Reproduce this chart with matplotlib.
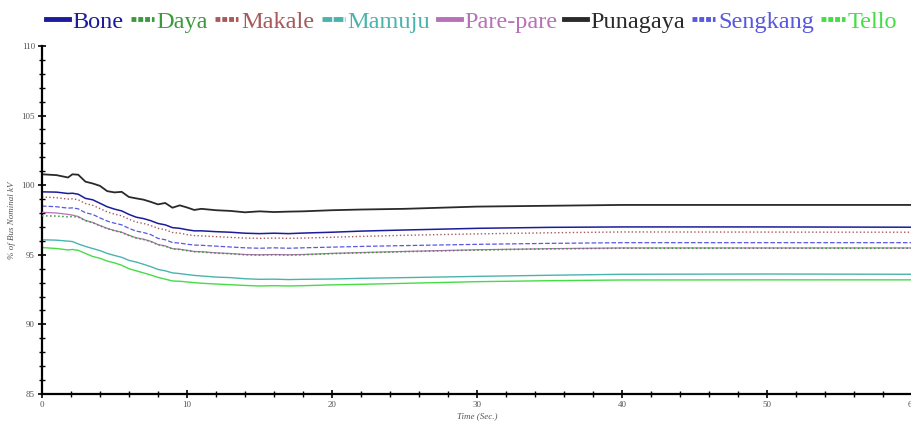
import matplotlib.pyplot as plt
from matplotlib.lines import Line2D
from matplotlib.ticker import MultipleLocator

# waktu (detik)
t = [0, 1, 1.8, 2.1, 2.5, 3, 3.5, 4, 4.5, 5, 5.5, 6, 6.5, 7, 7.5, 8, 8.5, 9, 9.5, 10,
     10.5, 11, 12, 13, 14, 15, 16, 17, 18, 20, 22, 25, 30, 35, 40, 50, 60]

bone = [99.52, 99.5, 99.4, 99.42, 99.35, 99.05, 98.95, 98.7, 98.45, 98.28, 98.15, 97.9, 97.7, 97.6,
        97.45, 97.25, 97.15, 96.95, 96.9, 96.8, 96.72, 96.72, 96.66, 96.62, 96.55, 96.52, 96.55, 96.52,
        96.56, 96.62, 96.7, 96.78, 96.9, 96.97, 97.0, 97.0, 96.98]
daya = [97.8, 97.78, 97.72, 97.75, 97.7, 97.45, 97.3, 97.08, 96.88, 96.72, 96.6, 96.38, 96.2, 96.1,
        95.95, 95.72, 95.62, 95.42, 95.38, 95.3, 95.22, 95.2, 95.12, 95.07, 95.0, 94.98, 95.0, 94.98,
        95.0, 95.08, 95.14, 95.22, 95.34, 95.42, 95.47, 95.47, 95.47]
makale = [99.15, 99.1, 99.0, 99.02, 98.95, 98.68, 98.55, 98.32, 98.08, 97.92, 97.8, 97.55, 97.35, 97.25,
          97.1, 96.9, 96.8, 96.6, 96.55, 96.45, 96.38, 96.36, 96.3, 96.25, 96.2, 96.18, 96.2, 96.18,
          96.2, 96.26, 96.32, 96.4, 96.5, 96.58, 96.64, 96.63, 96.62]
mamuju = [96.08, 96.05, 95.98, 95.95, 95.78, 95.6, 95.45, 95.3, 95.1, 94.95, 94.82, 94.6, 94.48, 94.32,
          94.15, 93.95, 93.85, 93.7, 93.65, 93.58, 93.52, 93.48, 93.4, 93.36, 93.28, 93.24, 93.25, 93.22,
          93.24, 93.26, 93.31, 93.36, 93.45, 93.53, 93.6, 93.62, 93.6]
parepare = [98.05, 98.0, 97.9, 97.85, 97.75, 97.47, 97.32, 97.1, 96.9, 96.74, 96.62, 96.4, 96.22, 96.12,
            95.97, 95.74, 95.64, 95.44, 95.4, 95.32, 95.24, 95.22, 95.14, 95.09, 95.02, 95.0, 95.02, 95.0,
            95.02, 95.1, 95.16, 95.24, 95.36, 95.44, 95.49, 95.49, 95.49]
punagaya = [100.78, 100.72, 100.55, 100.78, 100.75, 100.25, 100.12, 99.95, 99.57, 99.48, 99.52, 99.15,
            99.05, 98.96, 98.8, 98.62, 98.72, 98.38, 98.55, 98.4, 98.22, 98.3, 98.2, 98.15, 98.05, 98.12,
            98.07, 98.1, 98.12, 98.2, 98.25, 98.3, 98.46, 98.52, 98.58, 98.58, 98.58]
sengkang = [98.5, 98.45, 98.35, 98.37, 98.3, 98.02, 97.9, 97.65, 97.42, 97.27, 97.15, 96.9, 96.7, 96.6,
            96.45, 96.18, 96.08, 95.88, 95.84, 95.76, 95.7, 95.68, 95.62, 95.56, 95.5, 95.47, 95.5, 95.47,
            95.5, 95.55, 95.6, 95.66, 95.75, 95.82, 95.87, 95.87, 95.87]
tello = [95.52, 95.45, 95.35, 95.38, 95.32, 95.1, 94.88, 94.75, 94.55, 94.42, 94.25, 94.0, 93.85, 93.7,
         93.55, 93.38, 93.25, 93.12, 93.1, 93.05, 93.0, 92.96, 92.9, 92.85, 92.8, 92.76, 92.78, 92.76,
         92.78, 92.84, 92.88, 92.95, 93.07, 93.14, 93.19, 93.2, 93.2]

names = ['Bone', 'Daya', 'Makale', 'Mamuju', 'Pare-pare', 'Punagaya', 'Sengkang', 'Tello']
series = [bone, daya, makale, mamuju, parepare, punagaya, sengkang, tello]
colors = ['#1c1c9a', '#3c9a3c', '#a85a5a', '#4ab4ac', '#b870b8', '#2a2a2a', '#5858e0', '#44dd44']
styles = ['-', ':', ':', '-', '-', '-', '--', '-']
widths = [1.1, 1.1, 1.0, 1.0, 0.9, 1.3, 0.9, 1.0]
zorders = [2, 4, 2, 2, 3, 2, 2, 2]

plt.rcParams['font.family'] = ['Liberation Serif', 'DejaVu Serif']

fig = plt.figure(figsize=(9.12, 4.21), dpi=100)
ax = fig.add_axes([0.046, 0.064, 0.954, 0.827])

for y, c, ls, lw, z in zip(series, colors, styles, widths, zorders):
    ax.plot(t, y, color=c, linestyle=ls, linewidth=lw, zorder=z)

ax.set_xlim(0, 60)
ax.set_ylim(85, 110)
ax.xaxis.set_major_locator(MultipleLocator(10))
ax.xaxis.set_minor_locator(MultipleLocator(2))
ax.yaxis.set_major_locator(MultipleLocator(5))
ax.yaxis.set_minor_locator(MultipleLocator(1))
ax.tick_params(which='major', direction='inout', length=6, width=1.2, labelsize=6.5,
               labelcolor='#555555', pad=2)
ax.tick_params(which='minor', direction='inout', length=4, width=1.0)
for s in ['top', 'right']:
    ax.spines[s].set_visible(False)
for s in ['left', 'bottom']:
    ax.spines[s].set_linewidth(1.6)

ax.set_xlabel('Time (Sec.)', fontsize=6.5, style='italic', color='#555555', labelpad=2)
ax.set_ylabel('% of Bus Nominal kV', fontsize=6.5, style='italic', color='#555555', labelpad=4)

# penanda legenda: garis tebal pendek
legend_dash = {'-': '-', ':': (0, (1, 0.4)), '--': (0, (1, 0.4))}
legend_dash_names = {'Mamuju': (0, (2, 0.3)), 'Tello': (0, (1, 0.4))}
handles = []
for n, c, ls in zip(names, colors, styles):
    dash = legend_dash_names.get(n, legend_dash[ls])
    handles.append(Line2D([0], [0], color=c, lw=3.5, linestyle=dash))
leg = fig.legend(handles, names, loc='upper center', bbox_to_anchor=(0.517, 1.0), ncol=8,
                 frameon=False, fontsize=17.5, handlelength=0.95, handletextpad=0.12,
                 columnspacing=0.3, borderaxespad=0.05)
for txt, c in zip(leg.get_texts(), colors):
    txt.set_color(c)

fig.savefig('out.png', dpi=100)
